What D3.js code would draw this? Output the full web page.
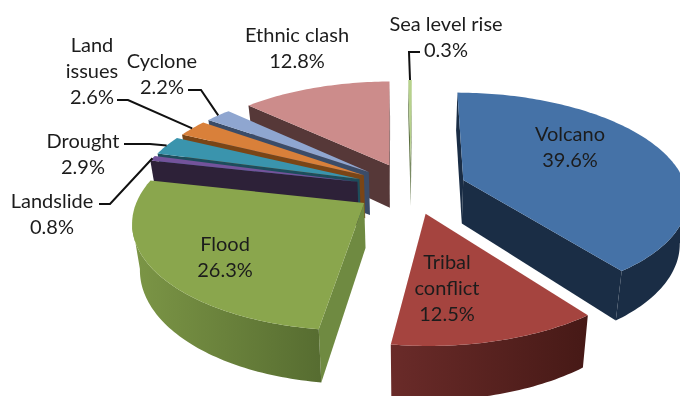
<!DOCTYPE html>
<html>
<head>
<meta charset="utf-8">
<script src="https://cdn.jsdelivr.net/npm/d3@7/dist/d3.min.js"></script>
<style>
html,body{margin:0;padding:0;background:#fff;overflow:hidden}
svg{display:block;filter:blur(0.45px)}
text{font-family:Lato,"Open Sans",sans-serif;font-size:20px;fill:#1c1c1c;text-anchor:middle;dominant-baseline:central}
</style>
</head>
<body>
<svg id="c" width="680" height="396"></svg>
<script>
const categories = ["Volcano","Tribal conflict","Flood","Landslide","Drought","Land issues","Cyclone","Ethnic clash","Sea level rise"];
const shares = [39.6,12.5,26.3,0.8,2.9,2.6,2.2,12.8,0.3];
const labelLines = [["Volcano"],["Tribal","conflict"],["Flood"],["Landslide"],["Drought"],["Land","issues"],["Cyclone"],["Ethnic clash"],["Sea level rise"]];

const topColors = ["#4572a7","#a5443f","#8aa64d","#73539b","#3a94ad","#d9803a","#8fa6d0","#cc8c8b","#b7d28c"];
const cutColors = ["#1a2d45","#4d1f1c","#6f8a41","#2d2138","#1d4d5c","#7a4516","#3b4c68","#563838","#5c7040"];
const rimStart  = ["#1a2d45","#461916","#576d31","#2d2138","#1d4d5c","#7a4516","#3b4c68","#563838","#5c7040"];
const rimEnd    = ["#1a2d45","#6a2b29","#7c9646","#2d2138","#1d4d5c","#7a4516","#3b4c68","#563838","#5c7040"];

// label block centres and first-line y, plus leader elbows
const labelX = [570,447,225,52,83,92,162,297,446];
const labelY = [133,261,243,200,140,44,60,34,23];
const lineStep = 26;
const leaders = [null,null,null,
  [[99,204],[110,204]],
  [[124,144],[150,144]],
  [[117,100],[128,100]],
  [[188,90],[201,90]],
  null,
  [[420,52],[409,52]]];

// plane → screen projection
const cx=411, cy=188, spanX=223, spanY=103, persp=0.153, depth=44, taper=0.972, explode=0.25;
const xS=d3.scaleLinear().domain([-1,1]).range([cx-spanX,cx+spanX]);
const yS=d3.scaleLinear().domain([-1,1]).range([cy-spanY,cy+spanY]);
const topPt=(u,v)=>{const w=1-persp*v;return [xS(u/w),yS(v/w)];};
const botPt=(u,v)=>{const w=1-persp*v;return [xS(u/w*taper),yS(v/w)+depth/w];};

const rot=0.3*Math.PI/180;
const arcs=d3.pie().sort(null).startAngle(rot).endAngle(rot+2*Math.PI)(shares);
const line=d3.line();
const svg=d3.select("#c");
const defs=svg.append("defs");
const gSlices=svg.append("g"), gLead=svg.append("g"), gText=svg.append("g");

const slices=arcs.map((a,i)=>{
  const mid=(a.startAngle+a.endAngle)/2;
  const ox=explode*Math.sin(mid), oy=-explode*Math.cos(mid);
  const plane=t=>[ox+Math.sin(t),oy-Math.cos(t)];
  const steps=Math.max(3,Math.ceil((a.endAngle-a.startAngle)/0.02));
  const rim=d3.range(steps+1).map(k=>plane(a.startAngle+(a.endAngle-a.startAngle)*k/steps));
  return {i,a,mid,ox,oy,plane,rim};
});

slices.slice().sort((p,q)=>topPt(p.ox,p.oy)[1]-topPt(q.ox,q.oy)[1]).forEach(s=>{
  const g=gSlices.append("g");
  const quad=(p,q,fill)=>{
    if(topPt(...q)[0]>=topPt(...p)[0]) return;
    g.append("path").attr("d",line([topPt(...p),topPt(...q),botPt(...q),botPt(...p)])+"Z")
      .attr("fill",fill);
  };
  const apex=[s.ox,s.oy], n=s.rim.length-1;
  quad(apex,s.rim[0],cutColors[s.i]);
  quad(s.rim[n],apex,cutColors[s.i]);
  const seen=s.rim.filter((p,k)=>(k<n&&topPt(...s.rim[k+1])[0]<topPt(...p)[0])||(k>0&&topPt(...p)[0]<topPt(...s.rim[k-1])[0]));
  if(seen.length>1){
    const x0=topPt(...seen[0])[0], x1=topPt(...seen[seen.length-1])[0];
    const id="rim"+s.i;
    const grad=defs.append("linearGradient").attr("id",id).attr("gradientUnits","userSpaceOnUse")
      .attr("x1",x0).attr("x2",x1).attr("y1",0).attr("y2",0);
    grad.append("stop").attr("offset",0).attr("stop-color",rimStart[s.i]);
    grad.append("stop").attr("offset",1).attr("stop-color",rimEnd[s.i]);
    g.append("path").attr("d",line([...seen.map(p=>topPt(...p)),...seen.slice().reverse().map(p=>botPt(...p))])+"Z")
      .attr("fill",`url(#${id})`);
  }
  g.append("path").attr("d",line([apex,...s.rim].map(p=>topPt(...p)))+"Z")
    .attr("fill",topColors[s.i]);
});

slices.forEach(s=>{
  const el=leaders[s.i];
  if(el){
    const r=s.plane(s.mid);
    gLead.append("path").attr("d",line([...el,topPt(...r)])).attr("fill","none")
      .attr("stroke","#111").attr("stroke-width",2);
  }
  const lines=[...labelLines[s.i],d3.format(".1f")(shares[s.i])+"%"];
  lines.forEach((t,k)=>gText.append("text").attr("x",labelX[s.i]).attr("y",labelY[s.i]+k*lineStep).text(t));
});
</script>
</body>
</html>
